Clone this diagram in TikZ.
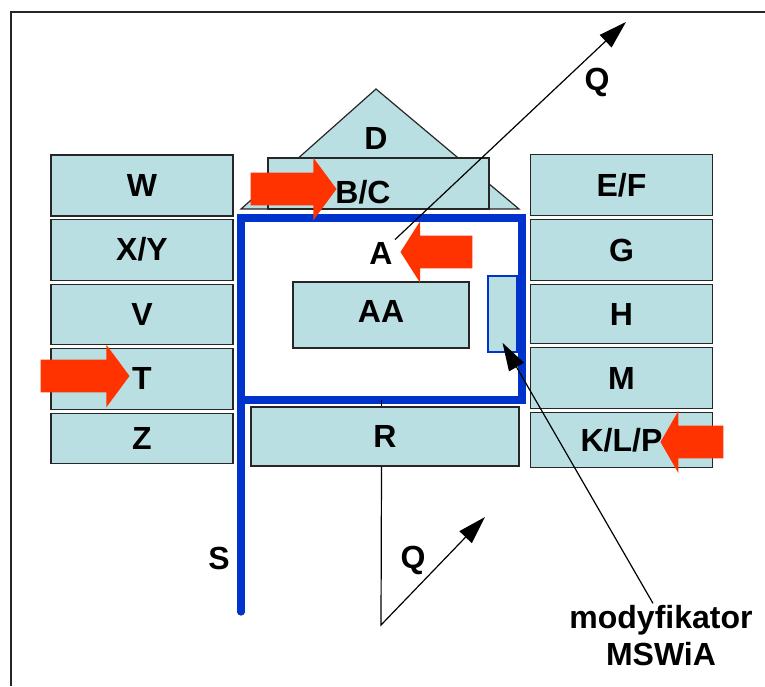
\documentclass[tikz,border=0pt]{standalone}
\usepackage{fontspec}
\setmainfont{Liberation Sans}
\usepackage{tikz}
\usetikzlibrary{shapes.arrows, arrows.meta, positioning}
\definecolor{boxfill}{RGB}{185, 223, 226}
\definecolor{mswblue}{RGB}{0, 51, 204}
\definecolor{hitred}{RGB}{255, 51, 0}

\begin{document}
\begin{tikzpicture}[
    x=0.5pt, y=-0.5pt, % one unit is one pixel of the sketch
    node distance=1.4pt,
    every node/.style={font=\fontsize{16}{18.5}\selectfont\bfseries},
    box/.style={rectangle, draw=black!85, fill=boxfill, line width=0.6pt,
                inner sep=0pt, minimum width=91pt, minimum height=30.5pt},
    lbl/.style={inner sep=1pt},
    wall/.style={draw=mswblue, line width=3.6pt},
    arr/.style={-{Triangle[length=14pt, width=8.5pt]}, line width=0.6pt},
    hit/.style={single arrow, fill=hitred, draw=none, inner xsep=0pt,
                inner ysep=8pt, anchor=tip, single arrow head extend=7.5pt,
                single arrow tip angle=107}
]
\useasboundingbox (0,0) rectangle (765,686);

% Frame
\draw[line width=1pt, black!85] (11,686) -- (11,12) -- (765,12);

% Roof and top box
\filldraw[fill=boxfill, draw=black!85, line width=0.6pt]
    (241,209) -- (376,89) -- (519,209) -- cycle;
\node[lbl] (d) at (376,138) {D};
\node[box, minimum width=110.5pt, minimum height=25.5pt] (bc) at (378.5,183.5) {};
\node[lbl] (bclbl) at (363,192) {B/C};

% Left column
\node[box] (w) at (142,185.5) {W};
\node[box, below=1pt of w] (xy) {X/Y};
\node[box, below=of xy, minimum height=30pt] (v) {V};
\node[box, below=of v] (t) {T};
\node[box, below=of t, minimum height=25pt] (z) {Z};

% Right column
\node[box] (ef) at (621.5,185) {E/F};
\node[box, below=of ef] (g) {G};
\node[box, below=of g, minimum height=29.5pt] (h) {H};
\node[box, below=of h] (m) {M};
\node[box, below=of m, minimum height=27.5pt] (klp) {K/L/P};

% Middle
\node[box, minimum width=134pt, minimum height=29.5pt] (r) at (385,436.5) {R};
\node[box, minimum width=88pt, minimum height=33pt] (aa) at (381,315) {\raisebox{3.5pt}{AA}};
\node[box, draw=mswblue, line width=0.8pt, minimum width=14.5pt,
      minimum height=38pt] (mfk) at (502.5,314) {};
\node[rectangle, wall, inner sep=0pt, outer sep=0pt, minimum width=140.5pt,
      minimum height=91pt] (hall) at (381.5,309) {};
\draw[wall, line cap=round] (hall.south west) -- (241,612);
\node[lbl] (s) at (219,558) {S};
\node[lbl] (a) at (381,253) {A};

% Lines
\coordinate (qtop) at (626,22);
\coordinate (qbend) at (381,625);
\coordinate (qtip) at (485,517);
\draw[arr] (a.north east) -- (qtop);
\node[lbl] (q1) at (597,82) {Q};
\draw[line width=0.6pt] (hall.south) -- (hall.south |- r.north);
\draw[arr] (hall.south |- r.south) -- (qbend) -- (qtip);
\node[lbl] (q2) at (413,560) {Q};
\node[lbl, align=center] (mod) at (661,636) {modyfikator\\MSWiA};
\draw[arr] ([xshift=-4pt]mod.north) -- ([yshift=5pt]mfk.south);

% Red arrows
\node[hit, minimum height=43pt] (hbc) at (337,189) {};
\node[hit, minimum height=44.5pt] (ht) at (130,376) {};
\node[hit, rotate=180, minimum height=36pt, single arrow head extend=7.25pt,
      single arrow tip angle=115] (ha) at (400,252) {};
\node[hit, rotate=180, minimum height=31.5pt, single arrow head extend=7.25pt,
      single arrow tip angle=120] (hklp) at (660,442) {};

\end{tikzpicture}
\end{document}
